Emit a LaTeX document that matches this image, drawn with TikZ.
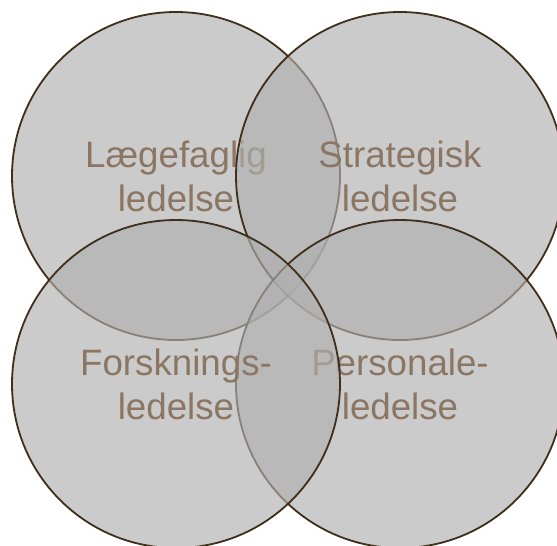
\documentclass[tikz,border=0pt]{standalone}
\usepackage{fontspec}
\setmainfont{Liberation Sans}
\definecolor{ringfill}{RGB}{175,175,175}
\definecolor{ringline}{RGB}{62,46,26}
\definecolor{labeltext}{RGB}{139,118,100}
\begin{document}
\begin{tikzpicture}[x=1pt,y=-1pt,
  ring/.style={circle, minimum size=328pt, inner sep=0pt, outer sep=0pt,
    fill=ringfill, fill opacity=0.65, draw=ringline, draw opacity=1,
    line width=1.8pt, text opacity=1, text=labeltext, align=center,
    font=\fontsize{36.7}{44}\selectfont}]
\useasboundingbox (0,0) rectangle (557,546);
\clip (0,0) rectangle (557,546);
\node[ring] (tl) at (176,176) {Lægefaglig\\ledelse};
\node[ring] (tr) at (400,176) {Strategisk\\ledelse};
\node[ring] (br) at (400,384) {Personale-\\ledelse};
\node[ring] (bl) at (176,384) {Forsknings-\\ledelse};
\end{tikzpicture}
\end{document}
